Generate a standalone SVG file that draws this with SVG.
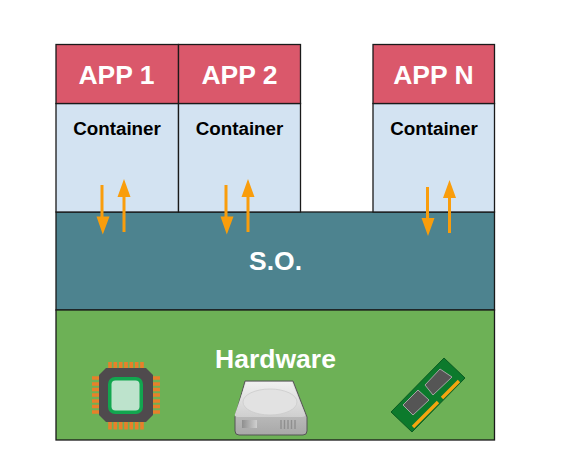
<svg xmlns="http://www.w3.org/2000/svg" width="577" height="458" viewBox="0 0 577 458">
<defs>
<linearGradient id="top" x1="0" y1="0" x2="0" y2="1"><stop offset="0" stop-color="#f0f0f0"/><stop offset="1" stop-color="#cfcfcf"/></linearGradient>
<linearGradient id="front" x1="0" y1="0" x2="0" y2="1"><stop offset="0" stop-color="#d8d8d8"/><stop offset="1" stop-color="#a8a8a8"/></linearGradient>
<linearGradient id="slot" x1="0" y1="0" x2="1" y2="0"><stop offset="0" stop-color="#8f8f8f"/><stop offset="1" stop-color="#d0d0d0"/></linearGradient>
</defs>
<style>
text{font-family:"Liberation Sans",Arial,sans-serif;font-weight:700;text-anchor:middle}
.box{stroke:#1a1a1a;stroke-width:1.3}
.app{fill:#da586b}
.con{fill:#d3e3f2}
.t1{fill:#fff;font-size:26.500px}
.t2{fill:#000;font-size:18.800px}
.ln{stroke:#f99d0c;stroke-width:3;fill:none}
.hd{fill:#f99d0c}
.pin{stroke:#e8802a;stroke-width:3.600;fill:none}
</style>
<rect width="577" height="458" fill="#fff"/>
<g id="so"><rect class="box" x="56" y="212" width="438.500" height="98" fill="#4d838f"/><text class="t1" x="275.500" y="270">S.O.</text></g>
<g id="hardware"><rect class="box" x="56" y="310" width="438.500" height="130" fill="#6db156"/><text class="t1" x="275.500" y="368">Hardware</text></g>
<g id="app1"><rect class="box con" x="56" y="103.500" width="122.500" height="108.500"/><rect class="box app" x="56" y="44.500" width="122.500" height="59"/><text class="t1" x="116.500" y="84">APP 1</text><text class="t2" x="117" y="135">Container</text></g>
<g id="app2"><rect class="box con" x="178.500" y="103.500" width="122" height="108.500"/><rect class="box app" x="178.500" y="44.500" width="122" height="59"/><text class="t1" x="239.500" y="84">APP 2</text><text class="t2" x="239.500" y="135">Container</text></g>
<g id="appn"><rect class="box con" x="373" y="103.500" width="121.500" height="108.500"/><rect class="box app" x="373" y="44.500" width="121.500" height="59"/><text class="t1" x="433.500" y="84">APP N</text><text class="t2" x="434" y="135">Container</text></g>
<g id="connectors">
<path class="ln" d="M102 185V218M124 232V195M226 185V218M248 232V195M427.500 187V220M449.500 233V196"/>
<path class="hd" d="M96.500 216.500H109.500L102.800 234.500ZM117.500 197H130.500L124 179ZM220.500 216.500H233.500L226.800 234.500ZM241.500 197H254.500L248 179ZM421.500 218H434.500L428 236ZM443 198H456L449.500 180Z"/>
</g>
<g id="cpu">
<path class="pin" d="M110 362v8M115.300 362v8M120.700 362v8M126 362v8M131.300 362v8M136.700 362v8M142 362v8M110 421v8.500M115.300 421v8.500M120.700 421v8.500M126 421v8.500M131.300 421v8.500M136.700 421v8.500M142 421v8.500M92 378h8M92 384h8M92 389.500h8M92 395h8M92 401h8M92 406.500h8M92 412h8M152 378h8M152 384h8M152 389.500h8M152 395h8M152 401h8M152 406.500h8M152 412h8"/>
<path d="M106 368H146L153 375V415L146 422H106L99 415V375Z" fill="#4f4a4d"/>
<rect x="108" y="377" width="35" height="37" rx="7" fill="#12a64f"/>
<rect x="111.500" y="380.500" width="28" height="30" rx="4" fill="#bde3cc"/>
</g>
<g id="disk">
<path d="M245 381H293L307 417V431Q307 435 303 435H239Q235 435 235 431V417Z" fill="url(#front)" stroke="#555" stroke-width="1"/>
<path d="M246 382H292L305 414Q306 417 302 417H238Q234 417 235 414Z" fill="url(#top)"/>
<ellipse cx="270" cy="402" rx="27" ry="13" fill="#e2e2e2" stroke="#cccccc" stroke-width=".8"/>
<rect x="242" y="420" width="15" height="8" fill="url(#slot)"/>
<path d="M281 420v9M284.500 420v9M288 420v9M291.500 420v9M295 420v9" stroke="#8f8f8f" stroke-width="1.400"/>
</g>
<g id="ram">
<path d="M391 412L444 358L465 378L412 432Z" fill="#0c7a2c" stroke="#0a5a20"/>
<path d="M440 369L452 377L433 395L425 385ZM418 390L429 400L413 415L403 405Z" fill="#555" stroke="#a5a5a5"/>
<path d="M413 427L438 402M442 398L459 381" fill="none" stroke="#f5a50f" stroke-width="3.400"/>
</g>
</svg>
